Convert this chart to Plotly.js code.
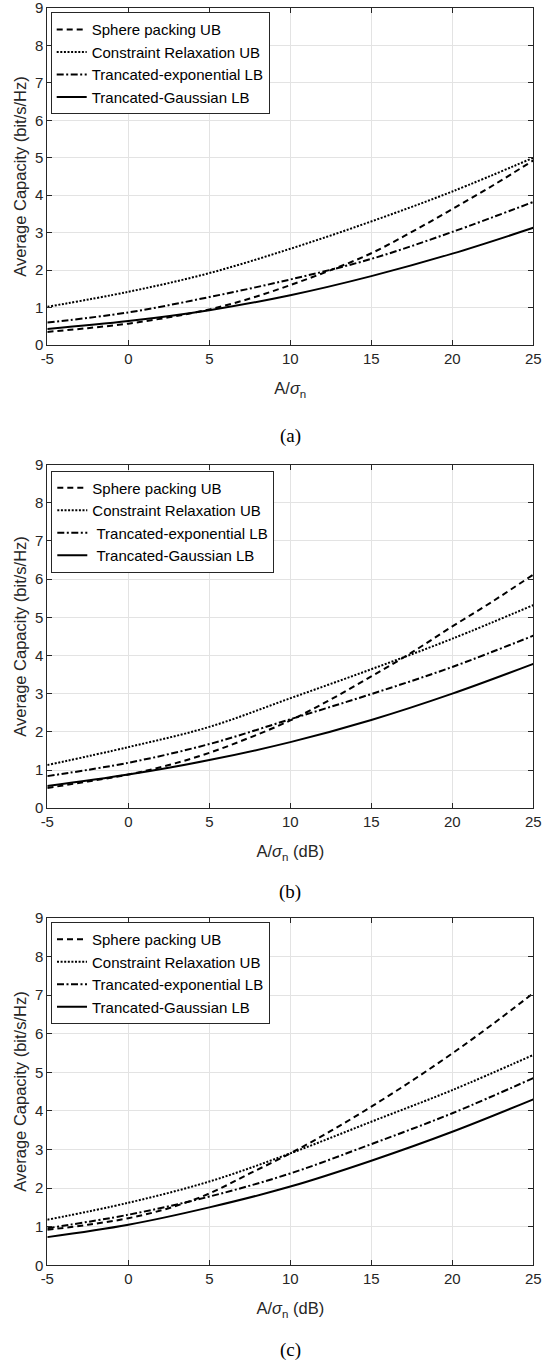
<!DOCTYPE html>
<html>
<head>
<meta charset="utf-8">
<script src="https://cdn.plot.ly/plotly-3.0.1.min.js"></script>
<style>html,body{margin:0;padding:0;background:#fff;}#chart{width:544px;height:1364px;}</style>
</head>
<body>
<div id="chart"></div>
<script>
// ---- data ----
const snr7 = [-5, 0, 5, 10, 15, 20, 25];
const snr13 = [-5, -2.5, 0, 2.5, 5, 7.5, 10, 12.5, 15, 17.5, 20, 22.5, 25];

const seriesNames = ["Sphere packing UB", "Constraint Relaxation UB", "Trancated-exponential LB", "Trancated-Gaussian LB"];

// (a)
const spherA = [0.35, 0.45, 0.57, 0.74, 0.95, 1.24, 1.60, 2.00, 2.45, 3.02, 3.63, 4.26, 4.93];
const relaxA = [1.02, 1.42, 1.92, 2.57, 3.30, 4.10, 5.00];
const expA   = [0.60, 0.87, 1.28, 1.75, 2.30, 3.02, 3.82];
const gaussA = [0.43, 0.64, 0.93, 1.33, 1.84, 2.44, 3.13];
// (b)
const spherB = [0.53, 0.70, 0.88, 1.13, 1.45, 1.85, 2.30, 2.85, 3.45, 4.08, 4.76, 5.42, 6.12];
const relaxB = [1.13, 1.60, 2.13, 2.88, 3.64, 4.44, 5.32];
const expB   = [0.84, 1.19, 1.68, 2.33, 2.99, 3.70, 4.52];
const gaussB = [0.58, 0.88, 1.26, 1.73, 2.31, 3.00, 3.78];
// (c)
const spherC = [0.92, 1.05, 1.22, 1.48, 1.86, 2.38, 2.90, 3.48, 4.11, 4.78, 5.49, 6.25, 7.05];
const relaxC = [1.18, 1.62, 2.17, 2.90, 3.72, 4.54, 5.45];
const expC   = [0.96, 1.31, 1.78, 2.38, 3.14, 3.94, 4.85];
const gaussC = [0.73, 1.05, 1.50, 2.04, 2.71, 3.46, 4.30];

const xTickVals = [-5, 0, 5, 10, 15, 20, 25];
const xTickText = ["-5", "0", "5", "10", "15", "20", "25"];
const yTickVals = [0, 1, 2, 3, 4, 5, 6, 7, 8, 9];
const yTickText = ["0", "1", "2", "3", "4", "5", "6", "7", "8", "9"];
const xTitles = ["A/<i>σ</i><sub>n</sub>", "A/<i>σ</i><sub>n</sub> (dB)", "A/<i>σ</i><sub>n</sub> (dB)"];
const yTitle = "Average Capacity (bit/s/Hz)";
const captions = ["(a)", "(b)", "(c)"];

// ---- layout geometry (pixels) ----
const W = 544, H = 1364;
const plotLeft = 47.3, plotRight = 533.3;
const plots = [ {top: 8, bottom: 345}, {top: 464.6, bottom: 808.2}, {top: 917.9, bottom: 1265.3} ];
const legendPos = [ {x: 50.7, y: 12.3}, {x: 51.3, y: 470.5}, {x: 51, y: 922} ];
const captionY = [436, 892, 1350];

const dashStyles = ["6px,4px", "2px,1.6px", "7px,2.5px,2px,2.5px", "solid"];
const ink = "#262626";

const sets = [
  {sp: spherA, cr: relaxA, te: expA, tg: gaussA},
  {sp: spherB, cr: relaxB, te: expB, tg: gaussB},
  {sp: spherC, cr: relaxC, te: expC, tg: gaussC}
];

const traces = [];
sets.forEach((s, i) => {
  const ax = i === 0 ? "" : String(i + 1);
  const leg = i === 0 ? "legend" : "legend" + (i + 1);
  const ys = [s.sp, s.cr, s.te, s.tg];
  const xs = [snr13, snr7, snr7, snr7];
  ys.forEach((yv, k) => {
    let nm = seriesNames[k];
    if (i === 1 && k >= 2) nm = "\u00a0" + nm;
    traces.push({
      x: xs[k], y: yv, type: "scatter", mode: "lines", name: nm,
      xaxis: "x" + ax, yaxis: "y" + ax, legend: leg,
      line: {color: "#000", width: 2, dash: dashStyles[k], shape: "spline", smoothing: 1}
    });
  });
});

const layout = {
  width: W, height: H,
  margin: {l: 0, r: 0, t: 0, b: 0},
  paper_bgcolor: "#fff", plot_bgcolor: "#fff",
  font: {family: "Liberation Sans, Arial, sans-serif", size: 15, color: ink},
  showlegend: true,
  annotations: []
};

plots.forEach((p, i) => {
  const ax = i === 0 ? "" : String(i + 1);
  layout["xaxis" + ax] = {
    domain: [plotLeft / W, plotRight / W], anchor: "y" + ax,
    range: [-5, 25], tickmode: "array", tickvals: xTickVals, ticktext: xTickText,
    showgrid: true, gridcolor: "#e3e3e3", gridwidth: 1, zeroline: false,
    showline: true, linecolor: ink, linewidth: 1, mirror: "ticks",
    ticks: "inside", ticklen: 5, tickcolor: ink,
    tickfont: {size: 15, color: ink}, ticklabeloverflow: "allow",
    title: {text: xTitles[i], font: {size: 16.5, color: ink}, standoff: 16},
    automargin: false, fixedrange: true
  };
  layout["yaxis" + ax] = {
    domain: [1 - p.bottom / H, 1 - p.top / H], anchor: "x" + ax,
    range: [0, 9], tickmode: "array", tickvals: yTickVals, ticktext: yTickText,
    showgrid: true, gridcolor: "#e3e3e3", gridwidth: 1, zeroline: false,
    showline: true, linecolor: ink, linewidth: 1, mirror: "ticks",
    ticks: "inside", ticklen: 5, tickcolor: ink,
    tickfont: {size: 15, color: ink}, ticklabeloverflow: "allow",
    title: {text: yTitle, font: {size: 16.5, color: ink}, standoff: 4},
    automargin: false, fixedrange: true
  };
  const leg = i === 0 ? "legend" : "legend" + (i + 1);
  layout[leg] = {
    x: legendPos[i].x / W, y: 1 - legendPos[i].y / H, xanchor: "left", yanchor: "top",
    bgcolor: "#fff", bordercolor: ink, borderwidth: 1,
    font: {size: 15, color: "#000"}, tracegroupgap: 0, itemwidth: 30,
    traceorder: "normal"
  };
  layout.annotations.push({
    text: captions[i], xref: "paper", yref: "paper", x: 0.5 * (plotLeft + plotRight) / W, y: 1 - captionY[i] / H,
    xanchor: "center", yanchor: "middle", showarrow: false,
    font: {family: "Liberation Serif, Times New Roman, serif", size: 19, color: "#000"}
  });
});

Plotly.newPlot("chart", traces, layout, {staticPlot: true, displayModeBar: false});
</script>
</body>
</html>
